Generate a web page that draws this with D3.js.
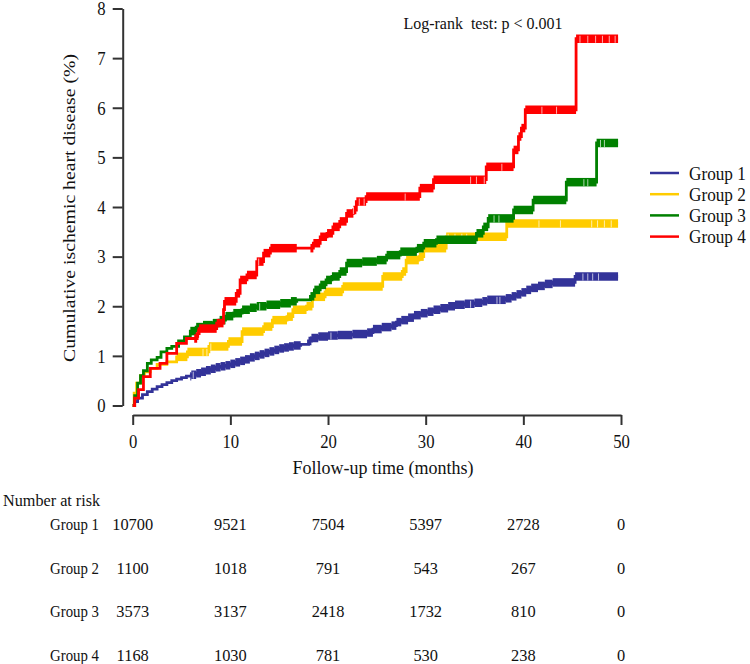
<!DOCTYPE html>
<html>
<head>
<meta charset="utf-8">
<script src="https://cdn.jsdelivr.net/npm/d3@7"></script>
<style>
  body { margin: 0; background: #fff; }
  svg { display: block; }
  svg text { font-family: "Liberation Serif", "Times New Roman", serif; fill: #111; }
</style>
</head>
<body>
<svg id="chart" width="750" height="664"></svg>
<script>
// Group names and colours
const groups = ["Group 1", "Group 2", "Group 3", "Group 4"];
const colors = ["#333399", "#ffcc00", "#008000", "#ff0000"];

// Kaplan-Meier steps, each point is [month, cumulative %]
const g1Steps = [[0,0],[0.2,0.08],[0.5,0.15],[1,0.22],[1.5,0.28],[2,0.33],[2.5,0.38],[3,0.42],[3.5,0.46],[4,0.5],
  [4.5,0.53],[5,0.56],[5.5,0.59],[6,0.62],[6.5,0.65],[7,0.68],[7.5,0.71],[8,0.74],[8.5,0.77],[9,0.79],[9.5,0.81],
  [10,0.84],[10.5,0.87],[11,0.9],[11.5,0.93],[12,0.97],[12.5,1.0],[13,1.03],[13.5,1.06],[14,1.09],[14.5,1.12],
  [15,1.15],[15.5,1.17],[16,1.19],[16.5,1.21],[17.2,1.23],[18,1.3],[18.3,1.36],[19,1.39],[20,1.41],[21,1.42],
  [22.5,1.44],[24,1.47],[24.6,1.54],[25.5,1.58],[26.5,1.61],[27,1.68],[27.5,1.72],[28.2,1.77],[28.8,1.82],
  [29.5,1.86],[30.2,1.89],[30.8,1.93],[31.5,1.96],[32.3,2.0],[33,2.03],[34,2.05],[35,2.07],[35.8,2.1],[36.3,2.13],
  [38.2,2.16],[38.8,2.2],[39.3,2.24],[39.8,2.28],[40.3,2.33],[40.8,2.37],[41.5,2.41],[42.2,2.45],[43,2.48],
  [45.3,2.6],[49.7,2.6]];
const g2Steps = [[0,0],[0.15,0.25],[0.4,0.45],[0.8,0.6],[1.2,0.68],[1.8,0.75],[2.5,0.83],[3.5,0.88],[4.5,0.98],
  [5.6,1.08],[7.8,1.19],[9.8,1.29],[11.2,1.49],[13.4,1.59],[14.3,1.72],[15.8,1.79],[16.4,1.93],[17.8,2.0],
  [18.4,2.19],[19.7,2.29],[21.5,2.4],[25.6,2.6],[27.6,2.7],[28,2.93],[29.3,3.0],[29.8,3.17],[32.1,3.4],
  [38.3,3.67],[49.7,3.67]];
const g3Steps = [[0,0],[0.2,0.2],[0.5,0.45],[0.8,0.6],[1.1,0.7],[1.5,0.85],[1.9,0.92],[2.5,0.97],[2.9,1.08],
  [3.5,1.15],[4,1.19],[4.7,1.3],[5.3,1.38],[5.9,1.5],[6.5,1.58],[7.2,1.62],[8.2,1.66],[8.9,1.72],[9.5,1.8],
  [10.3,1.86],[11.2,1.93],[12,1.97],[12.7,2.0],[13.7,2.03],[15.1,2.06],[16.2,2.1],[16.8,2.13],[18.2,2.2],
  [18.6,2.33],[19.2,2.43],[19.8,2.53],[20.4,2.6],[21.2,2.7],[21.9,2.87],[23.5,2.9],[25,2.93],[26,3.03],
  [27.4,3.1],[29.1,3.17],[29.8,3.27],[31.1,3.34],[35.2,3.47],[35.9,3.6],[36.4,3.77],[39,3.94],[41,4.14],
  [44.4,4.5],[47.5,5.29],[49.7,5.29]];
const g4Steps = [[0,0],[0.2,0.15],[0.6,0.32],[1.1,0.58],[1.8,0.75],[2.8,0.85],[3.5,1.05],[4.5,1.25],[5.5,1.35],
  [6.6,1.45],[6.8,1.55],[8.6,1.66],[9.3,1.93],[9.4,2.1],[10.6,2.26],[11,2.53],[11.7,2.63],[12.7,2.9],[13.4,3.07],
  [14.1,3.17],[18.5,3.27],[19.2,3.4],[19.9,3.47],[20.5,3.6],[21.2,3.71],[21.9,3.87],[22.6,3.94],[22.9,4.11],
  [23.9,4.21],[29.4,4.38],[30.8,4.55],[36.2,4.81],[39,5.15],[39.5,5.42],[39.8,5.59],[40.2,5.96],[45.4,7.39],
  [49.7,7.39]];

// Month ranges where censoring ticks are so dense that they form a band
const g1Dense = [[5.9,17.2],[18,49.7]];
const g2Dense = [[4.5,49.7]];
const g3Dense = [[5.9,16.8],[18.2,49.7]];
const g4Dense = [[6.3,16.8],[18.2,49.7]];

// Single censoring ticks that show up white inside the bands
const g1Gaps = [6.2, 20.3, 34.6, 37.3, 37.6, 46.1, 46.6, 47.1, 47.7];
const g2Gaps = [7.2, 7.6, 8.0, 32.3, 33.0, 33.7, 34.2, 41.6, 43.8, 47.0, 47.6, 48.3, 49.0];
const g3Gaps = [13.0, 37.0, 37.5, 46.2, 46.6, 47.9, 48.3];
const g4Gaps = [12.9, 22.6, 23.2, 23.7, 27.9, 34.6, 35.2, 36.0, 37.8, 41.9, 43.4, 45.8, 46.6, 47.4, 48.1, 48.8, 49.4];

// Number at risk table
const riskTimes = [0, 10, 20, 30, 40, 50];
const g1Risk = [10700, 9521, 7504, 5397, 2728, 0];
const g2Risk = [1100, 1018, 791, 543, 267, 0];
const g3Risk = [3573, 3137, 2418, 1732, 810, 0];
const g4Risk = [1168, 1030, 781, 530, 238, 0];

const xTicks = [0, 10, 20, 30, 40, 50];
const yTicks = [0, 1, 2, 3, 4, 5, 6, 7, 8];

const steps = [g1Steps, g2Steps, g3Steps, g4Steps];
const dense = [g1Dense, g2Dense, g3Dense, g4Dense];
const gaps = [g1Gaps, g2Gaps, g3Gaps, g4Gaps];
const risks = [g1Risk, g2Risk, g3Risk, g4Risk];

// The figure is a little taller than wide, so text is stretched vertically
const stretch = 1.08;

let svg = d3.select("#chart");

// Puts a text at (px, py) with the vertical stretch
function label(px, py, str, size, anchor) {
    return svg.append("text")
        .attr("transform", "translate(" + px + "," + py + ") scale(1," + stretch + ")")
        .attr("dy", "0.35em")
        .attr("text-anchor", anchor || "start")
        .style("font-size", size + "px")
        .text(str);
}

// Scales
let x = d3.scaleLinear().domain([0, 50]).range([132.7, 621]);
let y = d3.scaleLinear().domain([0, 8]).range([405.5, 8.5]);

const axisColor = "#333";

// Y axis
let yAxis = svg.append("g")
    .attr("transform", "translate(122.7,0)")
    .call(d3.axisLeft(y).tickValues(yTicks).tickSize(10).tickSizeOuter(0).tickPadding(7));

// X axis
let xAxis = svg.append("g")
    .attr("transform", "translate(0,415)")
    .call(d3.axisBottom(x).tickValues(xTicks).tickSize(10).tickSizeOuter(0).tickPadding(0));

[yAxis, xAxis].forEach(function(a) {
    a.attr("font-family", null).attr("font-size", null);
    a.selectAll("path, line").attr("stroke", axisColor).attr("stroke-width", 2);
    a.selectAll("text")
        .style("font-size", "16.7px")
        .attr("fill", "#111");
});
yAxis.selectAll("text").attr("dy", "0.35em")
    .attr("transform", "scale(1," + stretch + ")");
xAxis.selectAll("text").attr("y", 0).attr("dy", "0.35em")
    .attr("transform", "translate(0,27) scale(1," + stretch + ")");

// Axis titles
svg.append("text")
    .attr("transform", "translate(75,208) rotate(-90)")
    .attr("text-anchor", "middle")
    .attr("textLength", 308)
    .attr("lengthAdjust", "spacingAndGlyphs")
    .style("font-size", "17px")
    .text("Cumulative ischemic heart disease (%)");

label(383, 467, "Follow-up time (months)", 18, "middle");

// Step curves
let line = d3.line()
    .x(function(d) { return x(d[0]); })
    .y(function(d) { return y(d[1]); })
    .curve(d3.curveStepAfter);

for (let i = 0; i < 4; i++) {
    let g = svg.append("g");

    g.append("path")
        .attr("d", line(steps[i]))
        .attr("fill", "none")
        .attr("stroke", colors[i])
        .attr("stroke-width", 2.8);

    // Thick bands made of dense censoring ticks, drawn on the flat parts only
    let segs = [];
    for (let k = 0; k < steps[i].length - 1; k++) {
        let a = steps[i][k][0], b = steps[i][k + 1][0], v = steps[i][k][1];
        dense[i].forEach(function(r) {
            let s = Math.max(a, r[0]), e = Math.min(b, r[1]);
            if (e > s) segs.push([s, e, v]);
        });
    }
    g.selectAll(".band")
        .data(segs)
        .enter()
        .append("line")
        .attr("x1", function(d) { return x(d[0]); })
        .attr("x2", function(d) { return x(d[1]); })
        .attr("y1", function(d) { return y(d[2]); })
        .attr("y2", function(d) { return y(d[2]); })
        .attr("stroke", colors[i])
        .attr("stroke-width", 8.5);

    // White tick gaps
    let stepAt = function(t) {
        let v = 0;
        steps[i].forEach(function(p) { if (p[0] <= t) v = p[1]; });
        return v;
    };
    g.selectAll(".gap")
        .data(gaps[i])
        .enter()
        .append("line")
        .attr("x1", function(d) { return x(d); })
        .attr("x2", function(d) { return x(d); })
        .attr("y1", function(d) { return y(stepAt(d)) - 3; })
        .attr("y2", function(d) { return y(stepAt(d)) + 4; })
        .attr("stroke", "#fff")
        .attr("stroke-opacity", 0.85)
        .attr("stroke-width", 0.8);
}

// Log-rank annotation
label(483, 23, "Log-rank  test: p < 0.001", 16, "middle")
    .style("white-space", "pre");

// Legend
for (let i = 0; i < 4; i++) {
    let ly = 173 + i * 21.2;
    svg.append("line")
        .attr("x1", 650)
        .attr("x2", 679)
        .attr("y1", ly)
        .attr("y2", ly)
        .attr("stroke", colors[i])
        .attr("stroke-width", 2.5);
    label(689, ly, groups[i], 17.2);
}

// Number at risk table
label(3, 500, "Number at risk", 16.2);

for (let i = 0; i < 4; i++) {
    let ry = 524 + i * 43.6;
    label(99, ry, groups[i], 16, "end")
        .attr("textLength", 49)
        .attr("lengthAdjust", "spacingAndGlyphs");

    risks[i].forEach(function(d, j) {
        label(x(riskTimes[j]), ry, d, 16.4, "middle");
    });
}
</script>
</body>
</html>
